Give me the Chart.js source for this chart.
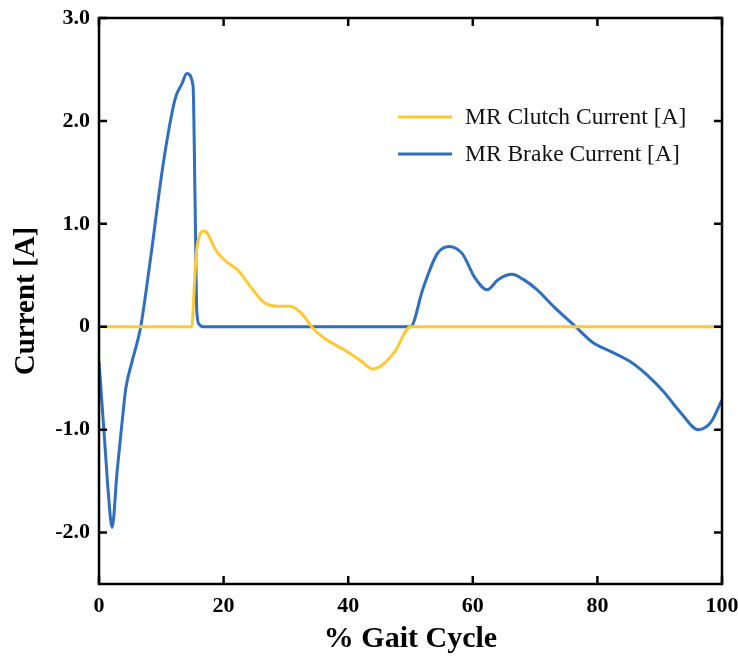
<!DOCTYPE html>
<html>
<head>
<meta charset="utf-8">
<script src="https://cdn.jsdelivr.net/npm/chart.js@4"></script>
<style>
  html, body { margin: 0; padding: 0; background: #fff; }
  #wrap { width: 738px; height: 661px; }
</style>
</head>
<body>
<div id="wrap"><canvas id="gait"></canvas></div>
<script>
// values
const clutchX = [0, 14.9, 15.3, 15.7, 16.9, 18.9, 20.7, 22.3, 24.3, 26.4, 28.6, 30.7, 32.5, 34.4, 36.6, 39.8, 42, 44, 45.5, 47.5, 50, 100];
const clutchY = [0, 0, 0.4, 0.76, 0.93, 0.73, 0.62, 0.55, 0.39, 0.24, 0.2, 0.2, 0.13, -0.02, -0.13, -0.24, -0.33, -0.41, -0.37, -0.24, 0, 0];

const brakeX = [0, 1, 1.45, 2.1, 2.9, 3.7, 4.3, 5.3, 6.3, 6.7, 8.2, 10.3, 12.2, 13.3, 14.1, 15.1, 15.4, 15.7, 16.1, 16.8, 50, 52, 54.3, 56.2, 58.3, 60.4, 62.3, 64.1, 66.3, 68.1, 70.3, 72.9, 76.5, 79.2, 82.1, 85.3, 88, 90.6, 93.3, 96.2, 98.2, 100];
const brakeY = [-0.34, -1.19, -1.58, -1.95, -1.41, -0.93, -0.6, -0.34, -0.11, 0, 0.63, 1.58, 2.21, 2.36, 2.46, 2.34, 1.3, 0.15, 0.02, 0, 0, 0.37, 0.71, 0.78, 0.71, 0.47, 0.36, 0.46, 0.51, 0.46, 0.36, 0.2, 0, -0.15, -0.24, -0.34, -0.47, -0.63, -0.83, -1.0, -0.93, -0.71];

const xTicks = [0, 20, 40, 60, 80, 100];
const yTicks = [-2, -1, 0, 1, 2, 3];
const seriesNames = ['MR Clutch Current [A]', 'MR Brake Current [A]'];
const seriesColors = ['#FFC933', '#2E6FC0'];

function toPoints(xs, ys) {
    return xs.map((x, i) => ({ x: x, y: ys[i] }));
}

// box frame with inward ticks on all four sides
const framePlugin = {
    id: 'frame',
    afterDatasetsDraw(chart) {
        const ctx = chart.ctx;
        const a = chart.chartArea;
        const xs = chart.scales.x;
        const ys = chart.scales.y;
        const tl = 8;
        ctx.save();
        ctx.strokeStyle = '#000';
        ctx.lineWidth = 2.5;
        ctx.strokeRect(a.left, a.top, a.right - a.left, a.bottom - a.top);
        ctx.beginPath();
        xTicks.forEach(v => {
            const px = xs.getPixelForValue(v);
            ctx.moveTo(px, a.bottom); ctx.lineTo(px, a.bottom - tl);
            ctx.moveTo(px, a.top); ctx.lineTo(px, a.top + tl);
        });
        yTicks.forEach(v => {
            const py = ys.getPixelForValue(v);
            ctx.moveTo(a.left, py); ctx.lineTo(a.left + tl, py);
            ctx.moveTo(a.right, py); ctx.lineTo(a.right - tl, py);
        });
        ctx.stroke();
        ctx.restore();
    }
};

// legend drawn inside the plot, upper right
const legendPlugin = {
    id: 'inlegend',
    afterDatasetsDraw(chart) {
        const ctx = chart.ctx;
        const a = chart.chartArea;
        const x0 = a.left + 299;
        const y0 = a.top + 99;
        ctx.save();
        ctx.font = '23.5px "Liberation Serif"';
        ctx.textBaseline = 'middle';
        ctx.fillStyle = '#111';
        chart.data.datasets.forEach((ds, i) => {
            const y = y0 + i * 37;
            ctx.strokeStyle = ds.borderColor;
            ctx.lineWidth = 3;
            ctx.beginPath();
            ctx.moveTo(x0, y);
            ctx.lineTo(x0 + 54, y);
            ctx.stroke();
            ctx.fillText(ds.label, x0 + 67, y + 1);
        });
        ctx.restore();
    }
};

new Chart(document.getElementById('gait'), {
    type: 'line',
    data: {
        datasets: [
            {
                label: seriesNames[0],
                data: toPoints(clutchX, clutchY),
                borderColor: seriesColors[0],
                borderWidth: 3,
                pointRadius: 0,
                cubicInterpolationMode: 'monotone'
            },
            {
                label: seriesNames[1],
                data: toPoints(brakeX, brakeY),
                borderColor: seriesColors[1],
                borderWidth: 3,
                pointRadius: 0,
                cubicInterpolationMode: 'monotone'
            }
        ]
    },
    options: {
        responsive: true,
        maintainAspectRatio: false,
        animation: false,
        layout: { padding: { top: 18, right: 16, left: 0, bottom: 0 } },
        plugins: {
            legend: { display: false },
            tooltip: { enabled: false }
        },
        scales: {
            x: {
                type: 'linear',
                min: 0,
                max: 100,
                afterBuildTicks: s => { s.ticks = xTicks.map(v => ({ value: v })); },
                afterFit: s => { s.height = 77; s.paddingLeft = 0; s.paddingRight = 0; },
                grid: { display: false, drawTicks: false },
                border: { display: false },
                ticks: {
                    padding: 9,
                    color: '#000',
                    maxRotation: 0,
                    font: { family: 'Liberation Serif', size: 22, weight: 'bold' }
                },
                title: {
                    display: true,
                    text: '% Gait Cycle',
                    color: '#000',
                    padding: { top: 0, bottom: 4 },
                    font: { family: 'Liberation Serif', size: 30, weight: 'bold' }
                }
            },
            y: {
                min: -2.5,
                max: 3,
                afterBuildTicks: s => { s.ticks = yTicks.map(v => ({ value: v })); },
                afterFit: s => { s.width = 99; s.paddingTop = 0; s.paddingBottom = 0; },
                grid: { display: false, drawTicks: false },
                border: { display: false },
                ticks: {
                    padding: 9,
                    color: '#000',
                    font: { family: 'Liberation Serif', size: 22, weight: 'bold' },
                    callback: v => v === 0 ? '0' : v.toFixed(1)
                },
                title: {
                    display: true,
                    text: 'Current [A]',
                    color: '#000',
                    padding: { top: 9, bottom: 0 },
                    font: { family: 'Liberation Serif', size: 29, weight: 'bold' }
                }
            }
        }
    },
    plugins: [framePlugin, legendPlugin]
});
</script>
</body>
</html>
